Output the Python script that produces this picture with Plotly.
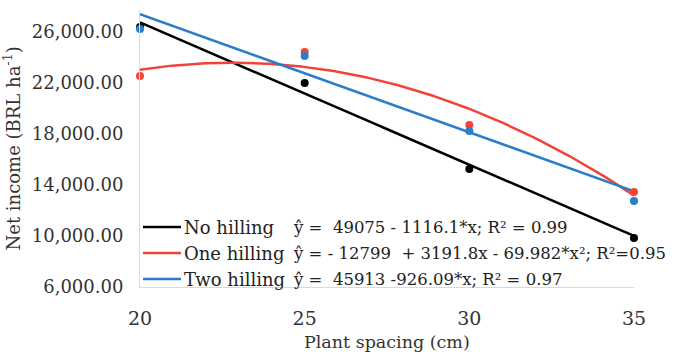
import numpy as np
import plotly.graph_objects as go

spacing = [20, 25, 30, 35]
no_hilling = [26400, 22000, 15255, 9843]
one_hilling = [22550, 24430, 18700, 13450]
two_hilling = [26235, 24118, 18235, 12745]

# trendline coefficients (constant, linear, quadratic) as reported in the legend
coef_no = [49075, -1116.1, 0.0]
coef_one = [-12799, 3191.8, -69.982]
coef_two = [45913, -926.09, 0.0]

series_names = ["No hilling", "One hilling", "Two hilling"]
equations = [
    "ŷ =  49075 - 1116.1*x; R² = 0.99",
    "ŷ = - 12799  + 3191.8x - 69.982*x²; R²=0.95",
    "ŷ =  45913 -926.09*x; R² = 0.97",
]
colors = ["#000000", "#F2433A", "#2C7DC9"]

y_ticks = [6000, 10000, 14000, 18000, 22000, 26000]
y_tick_text = ["6,000.00", "10,000.00", "14,000.00", "18,000.00", "22,000.00", "26,000.00"]
x_ticks = [20, 25, 30, 35]

W, H = 688, 354
ml, mr, mt, mb = 140, 54, 10, 67
FONT = "DejaVu Serif"

fig = go.Figure()
xs = np.linspace(20, 35, 200)
for data, coef, col in zip([no_hilling, one_hilling, two_hilling],
                           [coef_no, coef_one, coef_two], colors):
    yfit = coef[0] + coef[1] * xs + coef[2] * xs ** 2
    fig.add_trace(go.Scatter(x=xs, y=yfit, mode="lines",
                             line=dict(color=col, width=2.5),
                             showlegend=False, cliponaxis=False, hoverinfo="skip"))
for data, col in zip([no_hilling, one_hilling, two_hilling], colors):
    fig.add_trace(go.Scatter(x=spacing, y=data, mode="markers",
                             marker=dict(color=col, size=8),
                             showlegend=False, cliponaxis=False))

pw = W - ml - mr
ph = H - mt - mb
def px_to_paper_x(px):
    return (px - ml) / pw
def px_to_paper_y(py):
    return (H - mb - py) / ph

row_y = [227, 253, 279]
for name, eq, col, ry in zip(series_names, equations, colors, row_y):
    fig.add_shape(type="line", xref="paper", yref="paper",
                  x0=px_to_paper_x(143), x1=px_to_paper_x(181),
                  y0=px_to_paper_y(ry), y1=px_to_paper_y(ry),
                  line=dict(color=col, width=2.5))
    fig.add_annotation(xref="paper", yref="paper", x=px_to_paper_x(182), y=px_to_paper_y(ry),
                       text=name, showarrow=False, xanchor="left", yanchor="middle",
                       font=dict(family=FONT, size=18, color="#222222"))
    fig.add_annotation(xref="paper", yref="paper", x=px_to_paper_x(291), y=px_to_paper_y(ry),
                       text=eq, showarrow=False, xanchor="left", yanchor="middle",
                       font=dict(family=FONT, size=16.5, color="#222222"))

fig.add_annotation(xref="paper", yref="paper", x=0.5, y=px_to_paper_y(342),
                   text="Plant spacing (cm)", showarrow=False, xanchor="center", yanchor="middle",
                   font=dict(family=FONT, size=17.5, color="#333333"))
fig.add_annotation(xref="paper", yref="paper", x=px_to_paper_x(12), y=0.5,
                   text="Net income (BRL ha<sup>-1</sup>)", showarrow=False, textangle=-90,
                   xanchor="center", yanchor="middle",
                   font=dict(family=FONT, size=18, color="#333333"))

fig.update_layout(
    width=W, height=H,
    margin=dict(l=ml, r=mr, t=mt, b=mb),
    paper_bgcolor="white", plot_bgcolor="white",
    showlegend=False,
    font=dict(family=FONT, size=18, color="#333333"),
    xaxis=dict(range=[20, 35], tickvals=x_ticks, showgrid=False, zeroline=False,
               showline=True, linecolor="#D9D9D9", linewidth=1, ticks="",
               ticklabelstandoff=14, tickfont=dict(family=FONT, size=19, color="#333333")),
    yaxis=dict(range=[6000, 27725], tickvals=y_ticks, ticktext=y_tick_text, showgrid=False,
               zeroline=False, showline=True, linecolor="#D9D9D9", linewidth=1, ticks="",
               ticklabelstandoff=12, tickfont=dict(family=FONT, size=18, color="#333333")),
)

fig.write_html("out.html")
